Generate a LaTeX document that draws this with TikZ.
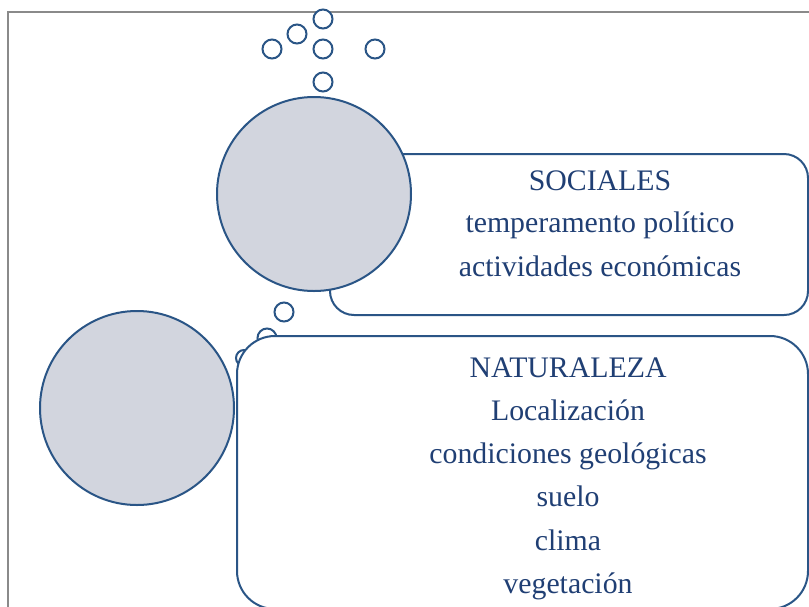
\documentclass[tikz,border=0pt]{standalone}
\usepackage{fontspec}
\setmainfont{Liberation Serif}
\definecolor{edge}{HTML}{2A5586}
\definecolor{fillc}{HTML}{D2D5DE}
\definecolor{txt}{HTML}{203F74}
\definecolor{frame}{HTML}{8A8A8A}
\begin{document}
\begin{tikzpicture}[x=1pt,y=-1pt,
  bub/.style={draw=edge,line width=2pt,fill=white},
  big/.style={draw=edge,line width=2pt,fill=fillc},
  panel/.style={draw=edge,line width=2pt,fill=white,rounded corners=#1},
  panel/.default=27pt,
  lbl/.style={text=txt,font=\fontsize{29.8}{35}\selectfont,inner sep=0pt,anchor=base}]
\useasboundingbox (0,0) rectangle (809,606);
\fill[white] (0,0) rectangle (809,606);
\draw[frame,line width=2pt] (8,612) -- (8,12) -- (812,12);
% top bubbles
\draw[bub] (272,49) circle (9.5);
\draw[bub] (297,34) circle (9.5);
\draw[bub] (323,19) circle (9.5);
\draw[bub] (323,49) circle (9.5);
\draw[bub] (375,49) circle (9.5);
\draw[bub] (323,82) circle (9.5);
% middle bubbles (partly behind lower panel)
\draw[bub] (284,312) circle (9.5);
\draw[bub] (267,338) circle (9.5);
\draw[bub] (244,358) circle (8);
% upper panel and circle
\draw[panel=24pt] (330,154) rectangle (808,315);
\draw[big] (314,194) circle (97);
% lower panel and circle
\draw[panel=38pt] (237,336) rectangle (808,609);
\draw[big] (137,408) circle (97);
% texts
\node[lbl] (s1) at (600,190) {SOCIALES};
\node[lbl] (s2) at (600,232) {temperamento político};
\node[lbl] (s3) at (600,276) {actividades económicas};
\node[lbl] (n1) at (568,377) {NATURALEZA};
\node[lbl] (n2) at (568,420) {Localización};
\node[lbl] (n3) at (568,463) {condiciones geológicas};
\node[lbl] (n4) at (568,506) {suelo};
\node[lbl] (n5) at (568,550) {clima};
\node[lbl] (n6) at (568,593) {vegetación};
\end{tikzpicture}
\end{document}
